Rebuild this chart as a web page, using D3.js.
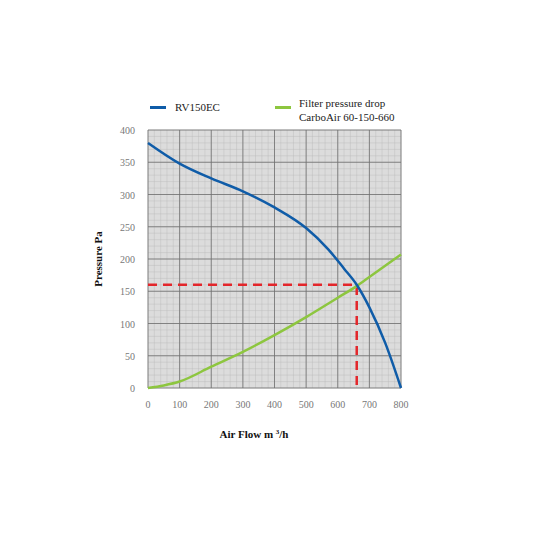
<!DOCTYPE html>
<html><head><meta charset="utf-8">
<script src="https://cdn.jsdelivr.net/npm/d3@7"></script>
<style>body{margin:0;background:#fff}svg{font-family:"Liberation Serif","Times New Roman",serif}</style>
</head><body><div id="chart"></div>
<script>
// Fan curve and filter curve
const fanFlow = [0, 100, 200, 300, 400, 500, 570, 620, 660, 700, 750, 800];
const fanPressure = [380, 348, 325, 305, 280, 248, 215, 185, 160, 125, 70, 0];
const filterFlow = [0, 50, 100, 200, 300, 400, 500, 600, 660, 700, 800];
const filterPressure = [0, 4, 10, 33, 56, 82, 110, 140, 158, 172, 207];
const opPoint = [660, 160];
const xTicks = [0, 100, 200, 300, 400, 500, 600, 700, 800];
const yTicks = [0, 50, 100, 150, 200, 250, 300, 350, 400];

const margin = { top: 130, left: 148 };
const width = 253, height = 258;

const svg = d3.select("#chart").append("svg").attr("width", 533).attr("height", 533);
const g = svg.append("g").attr("transform", `translate(${margin.left},${margin.top})`);

const x = d3.scaleLinear().domain([0, 800]).range([0, width]);
const y = d3.scaleLinear().domain([0, 400]).range([height, 0]);

g.append("rect").attr("width", width).attr("height", height).attr("fill", "#dcdcdc");

// minor grid
g.selectAll(".mx").data(d3.range(0, 801, 20)).enter().append("line")
  .attr("x1", d => x(d)).attr("x2", d => x(d)).attr("y1", 0).attr("y2", height)
  .attr("stroke", "#b8b8b8").attr("stroke-width", 0.4);
g.selectAll(".my").data(d3.range(0, 401, 10)).enter().append("line")
  .attr("y1", d => y(d)).attr("y2", d => y(d)).attr("x1", 0).attr("x2", width)
  .attr("stroke", "#b8b8b8").attr("stroke-width", 0.4);
// major grid
g.selectAll(".Mx").data(xTicks).enter().append("line")
  .attr("x1", d => x(d)).attr("x2", d => x(d)).attr("y1", 0).attr("y2", height)
  .attr("stroke", "#6e6e6e").attr("stroke-width", 0.8);
g.selectAll(".My").data(yTicks).enter().append("line")
  .attr("y1", d => y(d)).attr("y2", d => y(d)).attr("x1", 0).attr("x2", width)
  .attr("stroke", "#6e6e6e").attr("stroke-width", 0.8);

// tick labels
g.selectAll(".xt").data(xTicks).enter().append("text")
  .attr("x", d => x(d)).attr("y", height + 20).attr("text-anchor", "middle")
  .attr("font-size", 10).attr("fill", "#777").text(d => d);
g.selectAll(".yt").data(yTicks).enter().append("text")
  .attr("x", -13).attr("y", d => y(d) + 4).attr("text-anchor", "end")
  .attr("font-size", 10).attr("fill", "#777").text(d => d);

const line = d3.line().curve(d3.curveMonotoneX).x(d => x(d[0])).y(d => y(d[1]));

// operating point dashed lines
g.append("path")
  .attr("d", `M${x(0)},${y(opPoint[1])}H${x(opPoint[0])}V${y(0)}`)
  .attr("fill", "none").attr("stroke", "#e3262b").attr("stroke-width", 2.5)
  .attr("stroke-dasharray", "9,6");

g.append("path").datum(d3.zip(filterFlow, filterPressure)).attr("d", line)
  .attr("fill", "none").attr("stroke", "#8dc63f").attr("stroke-width", 2.5);
g.append("path").datum(d3.zip(fanFlow, fanPressure)).attr("d", line)
  .attr("fill", "none").attr("stroke", "#0f5ca8").attr("stroke-width", 2.5);

// legend
svg.append("rect").attr("x", 150).attr("y", 106).attr("width", 16).attr("height", 3).attr("fill", "#0f5ca8");
svg.append("text").attr("x", 175).attr("y", 111).attr("font-size", 11).attr("fill", "#222").text("RV150EC");
svg.append("rect").attr("x", 275).attr("y", 106).attr("width", 16).attr("height", 3).attr("fill", "#8dc63f");
svg.append("text").attr("x", 299).attr("y", 107).attr("font-size", 11).attr("fill", "#222").text("Filter pressure drop");
svg.append("text").attr("x", 299).attr("y", 121).attr("font-size", 11).attr("fill", "#222").text("CarboAir 60-150-660");

// axis titles
const xt = svg.append("text").attr("x", 254).attr("y", 438).attr("text-anchor", "middle")
  .attr("font-size", 11).attr("font-weight", "bold").attr("fill", "#111");
xt.append("tspan").text("Air Flow m ");
xt.append("tspan").attr("font-size", 7).attr("dy", -4).text("3");
xt.append("tspan").attr("dy", 4).text("/h");
svg.append("text").attr("transform", "translate(102,259) rotate(-90)").attr("text-anchor", "middle")
  .attr("font-size", 11).attr("font-weight", "bold").attr("fill", "#111").text("Pressure Pa");
</script></body></html>
